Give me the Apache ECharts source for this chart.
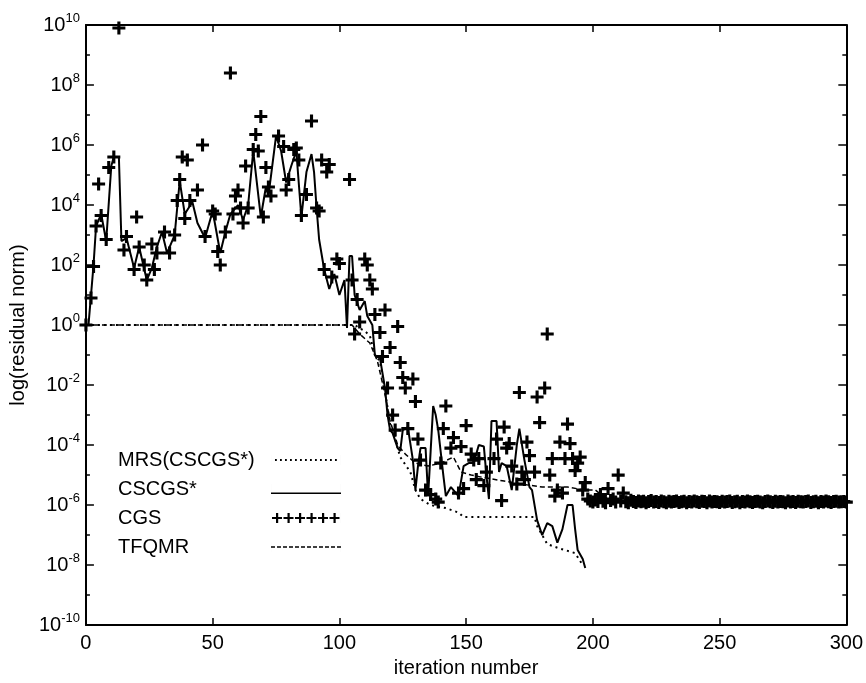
<!DOCTYPE html>
<html>
<head>
<meta charset="utf-8">
<script src="https://cdn.jsdelivr.net/npm/echarts@6/dist/echarts.min.js"></script>
<style>
html,body{margin:0;padding:0;background:#fff;}
#chart{width:866px;height:683px;}
</style>
</head>
<body>
<div id="chart"></div>
<script>
// All values are log10(residual norm) against iteration number
const seriesNames = ['MRS(CSCGS*)', 'CSCGS*', 'CGS', 'TFQMR'];
const xTicks = [0, 50, 100, 150, 200, 250, 300];
const yExponents = [-10, -8, -6, -4, -2, 0, 2, 4, 6, 8, 10];

const mrs = [[0,0],[106,0],[110,-0.2],[112,-0.35],[114,-1.0],[116,-1.2],[118,-2.2],[120,-3.3],[122,-3.8],[124,-4.4],[128,-4.9],[130,-5.5],[132,-5.8],[136,-6.0],[142,-6.1],[147,-6.25],[149,-6.4],[177,-6.4],[178,-6.7],[182,-7.3],[187,-7.45],[193,-7.6],[196,-8.0]];

const cscgs = [[1,0],[2,1.0],[3,2.0],[4,3.3],[6,3.7],[8,2.8],[10,5.3],[11,5.6],[13,5.6],[14,2.8],[16,2.9],[19,1.9],[21,2.6],[24,1.5],[26,1.9],[28,2.6],[30,3.1],[32,2.4],[35,3.0],[37,4.8],[39,3.7],[42,4.1],[44,3.4],[47,2.9],[50,3.8],[53,2.4],[55,3.1],[57,3.7],[60,4.0],[62,3.5],[64,4.0],[66,5.8],[69,3.6],[71,4.6],[72,4.3],[75,6.3],[77,5.8],[79,4.75],[81,5.3],[83,5.8],[85,3.6],[87,5.1],[89,5.7],[90,5.1],[91,3.9],[92,2.85],[94,1.85],[96,1.2],[98,1.7],[100,1.0],[102,1.5],[103,-0.1],[104,2.3],[105,2.3],[106,1.0],[108,0.5],[110,0.8],[111,0.3],[113,0],[114,-1.0],[116,-1.1],[118,-2.1],[119,-3.0],[120,-3.5],[121,-3.6],[123,-4.1],[124,-4.2],[125,-3.5],[127,-3.4],[129,-4.5],[130,-5.5],[131,-4.7],[132,-4.1],[134,-4.1],[135,-5.7],[136,-4.2],[137,-2.7],[138,-3.0],[139,-3.5],[141,-5.0],[142,-5.7],[144,-5.4],[147,-5.7],[149,-4.7],[151,-4.6],[153,-4.6],[155,-4.0],[157,-4.05],[158,-5.0],[159,-5.8],[160,-3.2],[162,-3.2],[163,-4.9],[164,-4.6],[166,-4.7],[168,-5.5],[170,-4.0],[171,-3.45],[173,-4.5],[175,-5.4],[176,-5.5],[178,-6.5],[180,-7.0],[182,-6.6],[184,-6.7],[186,-7.25],[188,-6.8],[190,-6.0],[192,-6.0],[193,-6.8],[194,-7.5],[196,-7.8],[197,-8.1]];

const cgs = [[0,0],[2,0.9],[3,1.95],[4,3.3],[5,4.7],[6,3.65],[8,2.85],[9,5.25],[11,5.6],[13,9.9],[15,2.5],[16,2.95],[19,1.85],[20,3.6],[21,2.6],[23,2.0],[24,1.5],[26,2.7],[27,1.85],[28,2.4],[31,3.1],[33,2.4],[35,3.0],[36,4.15],[37,4.85],[38,5.6],[39,3.55],[40,5.5],[41,4.15],[44,4.5],[46,6.0],[47,2.95],[50,3.8],[51,3.7],[52,2.45],[53,2.0],[55,3.1],[57,8.4],[58,3.7],[59,4.3],[60,4.5],[61,3.9],[62,3.4],[63,5.3],[64,3.9],[66,5.85],[67,6.35],[68,5.8],[69,6.95],[70,3.6],[71,5.25],[72,4.6],[73,4.3],[76,6.3],[78,5.95],[79,4.5],[80,4.85],[82,5.85],[83,5.9],[84,5.5],[85,3.65],[87,4.35],[89,6.8],[91,3.9],[92,3.8],[93,5.5],[94,1.85],[95,5.1],[96,5.35],[97,1.6],[99,2.2],[100,2.05],[104,4.85],[105,1.5],[106,-0.3],[107,0.85],[108,0.1],[110,2.2],[111,2.0],[112,1.5],[113,1.2],[114,0.35],[116,-0.25],[117,-1.05],[118,0.5],[119,-2.1],[120,-0.75],[121,-3.0],[122,-3.5],[123,-0.05],[124,-1.25],[125,-1.75],[126,-2.1],[127,-3.45],[129,-1.8],[130,-2.55],[131,-3.8],[132,-4.5],[134,-5.5],[136,-5.65],[138,-5.8],[139,-5.9],[140,-4.6],[141,-3.45],[142,-2.7],[144,-4.1],[145,-3.75],[147,-5.6],[148,-4.05],[149,-5.45],[150,-3.35],[152,-4.3],[153,-4.5],[154,-5.15],[155,-4.45],[157,-5.35],[158,-4.9],[161,-4.45],[162,-3.8],[164,-5.85],[165,-3.4],[166,-4.1],[167,-3.95],[168,-4.7],[170,-5.3],[171,-2.25],[172,-4.9],[173,-5.15],[174,-3.9],[175,-4.35],[177,-4.9],[178,-2.4],[179,-3.25],[181,-2.1],[182,-0.3],[183,-5.0],[184,-4.45],[185,-5.7],[186,-5.5],[187,-3.9],[188,-5.6],[189,-4.45],[190,-3.3],[191,-3.95],[192,-4.45],[193,-4.85],[194,-4.6],[195,-4.4],[196,-5.5],[197,-5.25]];

// CGS stagnation, iterations 198..300
const cgsTailStart = 198;
const cgsTail = [-5.80,-5.86,-5.90,-5.83,-5.88,-5.65,-5.87,-5.92,-5.45,-5.85,-5.80,-5.90,-5.00,-5.86,-5.60,-5.89,-5.92,-5.84,-5.88,-5.91,-5.86,-5.89,-5.87,-5.92,-5.88,-5.85,-5.90,-5.88,-5.91,-5.86,-5.89,-5.92,-5.87,-5.90,-5.88,-5.86,-5.91,-5.89,-5.87,-5.92,-5.88,-5.90,-5.86,-5.89,-5.91,-5.87,-5.88,-5.92,-5.86,-5.90,-5.88,-5.89,-5.91,-5.87,-5.90,-5.88,-5.86,-5.91,-5.89,-5.87,-5.92,-5.88,-5.90,-5.86,-5.89,-5.91,-5.88,-5.87,-5.90,-5.92,-5.88,-5.86,-5.89,-5.91,-5.87,-5.90,-5.88,-5.89,-5.92,-5.86,-5.90,-5.88,-5.91,-5.87,-5.89,-5.90,-5.88,-5.86,-5.91,-5.89,-5.87,-5.92,-5.88,-5.90,-5.86,-5.89,-5.91,-5.88,-5.87,-5.90,-5.89,-5.88,-5.90];

const tfqmr = [[0,0],[105,0],[108,-0.3],[112,-0.6],[115,-1.2],[118,-2.3],[120,-3.2],[123,-4.0],[126,-4.3],[130,-4.6],[135,-4.7],[140,-4.6],[145,-4.4],[148,-4.9],[152,-5.0],[158,-5.1],[165,-5.2],[172,-5.3],[180,-5.4],[190,-5.4],[197,-5.5],[201,-5.5],[204,-5.7],[210,-5.85]];

const cgsAll = cgs.concat(cgsTail.map((v, i) => [cgsTailStart + i, v]));

const FONT = '"Liberation Sans", Arial, Helvetica, sans-serif';
const plusPath = 'path://M3.8,0H6.2V3.8H10V6.2H6.2V10H3.8V6.2H0V3.8H3.8Z';

// legend sample icons (70 x 10 box)
function rectsPath(list) {
  return 'path://M0,0H0.01V10H0Z' + list.map(r => `M${r[0]},${r[1]}H${r[0]+r[2]}V${r[1]+r[3]}H${r[0]}Z`).join('') + 'M70,0H70.01V10H70Z';
}
const dotRects = [], dashRects = [], plusRects = [];
for (let x = 4; x < 68; x += 5) dotRects.push([x, 4, 1.8, 2]);
for (let x = 0; x < 70; x += 6) dashRects.push([x, 4.3, 4, 1.4]);
for (let k = 0; k < 6; k++) {
  const c = 6 + k * 11.5;
  plusRects.push([c - 1, 0, 2.2, 10]);
  plusRects.push([c - 5, 3.9, 10, 2.2]);
}
const iconDotted = rectsPath(dotRects);
const iconSolid = rectsPath([[0, 8.4, 70, 1.6]]);
const iconPlus = rectsPath(plusRects);
const iconDashed = rectsPath(dashRects);

const chart = echarts.init(document.getElementById('chart'), null, {renderer: 'canvas'});
const axisLineStyle = {color: '#000', width: 2};
const yLabelFmt = v => '{b|10}{s|' + v + '}';
const yRich = {
  b: {fontSize: 20, fontFamily: FONT, color: '#000', verticalAlign: 'middle'},
  s: {fontSize: 13, fontFamily: FONT, color: '#000', verticalAlign: 'middle', padding: [0, 0, 14, 0]}
};

chart.setOption({
  animation: false,
  backgroundColor: '#fff',
  grid: {left: 82, right: 18, top: 25, bottom: 49},
  legend: {
    orient: 'vertical', left: 118, top: 450, padding: 0,
    align: 'right', itemWidth: 70, itemHeight: 10, itemGap: 9,
    selectedMode: false,
    formatter: name => '{t|' + name + '}',
    textStyle: {fontSize: 20, fontFamily: FONT, color: '#000',
      rich: {t: {width: 148, align: 'left', fontSize: 20, fontFamily: FONT, color: '#000'}}},
    itemStyle: {color: '#000', borderWidth: 0},
    lineStyle: {opacity: 0},
    data: [
      {name: seriesNames[0], icon: iconDotted},
      {name: seriesNames[1], icon: iconSolid},
      {name: seriesNames[2], icon: iconPlus},
      {name: seriesNames[3], icon: iconDashed}
    ]
  },
  xAxis: [{
    type: 'value', min: 0, max: 300, interval: 50, position: 'bottom',
    axisLine: {onZero: false, lineStyle: axisLineStyle},
    axisTick: {inside: true, length: 7, lineStyle: {color: '#000', width: 1.5}},
    axisLabel: {fontSize: 20, fontFamily: FONT, color: '#000', margin: 8,
      formatter: v => xTicks.includes(v) ? String(v) : ''},
    splitLine: {show: false},
    name: 'iteration number', nameLocation: 'middle', nameGap: 26,
    nameTextStyle: {fontSize: 20, fontFamily: FONT, color: '#000'}
  }, {
    type: 'value', min: 0, max: 300, interval: 50, position: 'top',
    axisLine: {onZero: false, lineStyle: axisLineStyle},
    axisTick: {inside: true, length: 7, lineStyle: {color: '#000', width: 1.5}},
    axisLabel: {show: false}, splitLine: {show: false}
  }],
  yAxis: [{
    type: 'value', min: -10, max: 10, interval: 2, position: 'left',
    axisLine: {onZero: false, lineStyle: axisLineStyle},
    axisTick: {inside: true, length: 8, lineStyle: {color: '#000', width: 1.5}},
    minorTick: {show: true, splitNumber: 2, length: 4, lineStyle: {color: '#000', width: 1.5}},
    axisLabel: {formatter: v => yExponents.includes(v) ? yLabelFmt(v) : '', rich: yRich, margin: 6},
    splitLine: {show: false},
    name: 'log(residual norm)', nameLocation: 'middle', nameGap: 47, nameRotate: 90,
    nameTextStyle: {fontSize: 20, fontFamily: FONT, color: '#000'}
  }, {
    type: 'value', min: -10, max: 10, interval: 2, position: 'right',
    axisLine: {onZero: false, lineStyle: axisLineStyle},
    axisTick: {inside: true, length: 8, lineStyle: {color: '#000', width: 1.5}},
    minorTick: {show: true, splitNumber: 2, length: 4, lineStyle: {color: '#000', width: 1.5}},
    axisLabel: {show: false}, splitLine: {show: false}
  }],
  series: [
    {
      name: seriesNames[0], type: 'line', data: mrs, symbol: 'none', z: 3,
      lineStyle: {color: '#000', width: 2, type: [2, 4]}, itemStyle: {color: '#000'}
    },
    {
      name: seriesNames[1], type: 'line', data: cscgs, symbol: 'none', z: 4,
      lineStyle: {color: '#000', width: 2}, itemStyle: {color: '#000'}
    },
    {
      name: seriesNames[2], type: 'scatter', data: cgsAll, symbol: plusPath, symbolSize: 13, z: 5,
      itemStyle: {color: '#000', opacity: 1}
    },
    {
      name: seriesNames[3], type: 'line', data: tfqmr, symbol: 'none', z: 2,
      lineStyle: {color: '#000', width: 1.5, type: [5, 3]}, itemStyle: {color: '#000'}
    }
  ]
});
</script>
</body>
</html>
